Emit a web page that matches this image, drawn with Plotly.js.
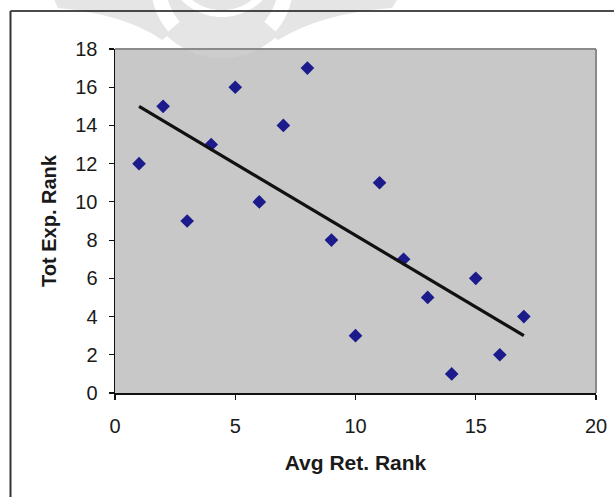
<!DOCTYPE html>
<html>
<head>
<meta charset="utf-8">
<script src="https://cdn.plot.ly/plotly-3.0.1.min.js"></script>
<style>
html,body{margin:0;padding:0;background:#fff;}
#chart{width:614px;height:497px;}
</style>
</head>
<body>
<div id="chart"></div>
<script>
// ---- data ----
const avgRetRank = [1, 2, 3, 4, 5, 6, 7, 8, 9, 10, 11, 12, 13, 14, 15, 16, 17];
const totExpRank = [12, 15, 9, 13, 16, 10, 14, 17, 8, 3, 11, 7, 5, 1, 6, 2, 4];
const xTickVals = [0, 5, 10, 15, 20];
const yTickVals = [0, 2, 4, 6, 8, 10, 12, 14, 16, 18];
const xTitle = 'Avg Ret. Rank';
const yTitle = 'Tot Exp. Rank';

// linear trendline (least squares) from the data
const n = avgRetRank.length;
const mx = avgRetRank.reduce((a, b) => a + b, 0) / n;
const my = totExpRank.reduce((a, b) => a + b, 0) / n;
let sxy = 0, sxx = 0;
for (let i = 0; i < n; i++) {
  sxy += (avgRetRank[i] - mx) * (totExpRank[i] - my);
  sxx += (avgRetRank[i] - mx) ** 2;
}
const slope = sxy / sxx, icpt = my - slope * mx;
const xMin = Math.min(...avgRetRank), xMax = Math.max(...avgRetRank);
const trendX = [xMin, xMax];
const trendY = trendX.map(x => icpt + slope * x);

// ---- geometry helpers (pixel -> paper) ----
const L = 115, R = 596, T = 49, B = 393;
const W = R - L, H = B - T;
const PX = p => (p - L) / W;
const PY = p => (B - p) / H;
function poly(pts) {
  return 'M ' + pts.map(p => PX(p[0]).toFixed(5) + ',' + PY(p[1]).toFixed(5)).join(' L ') + ' Z';
}
function arcPts(cx, cy, r, a0, a1, k) {
  const out = [];
  for (let i = 0; i <= k; i++) {
    const a = (a0 + (a1 - a0) * i / k) * Math.PI / 180;
    out.push([cx + r * Math.cos(a), cy + r * Math.sin(a)]);
  }
  return out;
}
function annulus(cx, cy, r1, r2, a0, a1) {
  return poly(arcPts(cx, cy, r2, a0, a1, 30).concat(arcPts(cx, cy, r1, a1, a0, 30)));
}
function qpath(seq) {
  return seq.map(c => c[0] + ' ' + c.slice(1).map((v, i) => (i % 2 === 0 ? PX(v) : PY(v)).toFixed(5)).join(',')).join(' ') + ' Z';
}

const wm = '#e5e5e5';
const shapes = [
  // watermark wings
  {type: 'path', xref: 'paper', yref: 'paper', layer: 'below', line: {width: 0}, fillcolor: wm,
   path: qpath([['M', 52, -5], ['L', 58, 8], ['Q', 125, 14, 162, 40], ['L', 190, 20], ['L', 190, -5]])},
  {type: 'path', xref: 'paper', yref: 'paper', layer: 'below', line: {width: 0}, fillcolor: wm,
   path: qpath([['M', 400, -5], ['L', 392, 8], ['Q', 322, 13, 278, 40], ['L', 250, 20], ['L', 250, -5]])},
  // watermark disc
  {type: 'path', xref: 'paper', yref: 'paper', layer: 'below', line: {width: 0}, fillcolor: wm,
   path: poly(arcPts(222, -22, 80, 0, 360, 72))},
  // white arcs
  {type: 'path', xref: 'paper', yref: 'paper', layer: 'below', line: {width: 0}, fillcolor: '#ffffff',
   path: annulus(222, -15, 56, 71, 139, 190)},
  {type: 'path', xref: 'paper', yref: 'paper', layer: 'below', line: {width: 0}, fillcolor: '#ffffff',
   path: annulus(222, -15, 56, 71, -10, 41)},
  {type: 'path', xref: 'paper', yref: 'paper', layer: 'below', line: {width: 0}, fillcolor: '#ffffff',
   path: annulus(222, -40, 50, 57, 40, 140)},
  // watermark part over the plot area
  {type: 'path', xref: 'paper', yref: 'paper', layer: 'above', line: {width: 0}, fillcolor: 'rgba(0,0,0,0.1)',
   path: poly(arcPts(222, -22, 80, 63, 117, 30).map(p => [p[0], Math.max(p[1], T + 1)]))},
  // plot border (top / right gray)
  {type: 'line', xref: 'paper', yref: 'paper', x0: 0, x1: 1, y0: 1, y1: 1, line: {color: '#8a8a8a', width: 2}},
  {type: 'line', xref: 'paper', yref: 'paper', x0: 1, x1: 1, y0: 0, y1: 1, line: {color: '#8a8a8a', width: 2}},
  // outer chart frame
  {type: 'line', xref: 'paper', yref: 'paper', x0: PX(10.5), x1: PX(620), y0: PY(11), y1: PY(11), line: {color: '#111', width: 1.5}},
  {type: 'line', xref: 'paper', yref: 'paper', x0: PX(10.5), x1: PX(10.5), y0: PY(11), y1: PY(505), line: {color: '#333', width: 2}}
];

const font = 'Liberation Sans, Arial, Helvetica, sans-serif';
const traces = [
  {x: avgRetRank, y: totExpRank, type: 'scatter', mode: 'markers',
   marker: {symbol: 'diamond', size: 10.5, color: '#1b1b8c', line: {width: 0}}, hoverinfo: 'x+y'},
  {x: trendX, y: trendY, type: 'scatter', mode: 'lines',
   line: {color: '#111111', width: 3.2}, hoverinfo: 'skip'}
];

const layout = {
  width: 614, height: 497,
  margin: {l: L, r: 614 - R, t: T, b: 497 - B, pad: 0},
  paper_bgcolor: '#ffffff', plot_bgcolor: '#c8c8c8',
  showlegend: false,
  font: {family: font, color: '#111'},
  xaxis: {
    range: [0, 20], tickvals: xTickVals, ticktext: xTickVals.map(String),
    ticks: 'outside', ticklen: 5, tickwidth: 1.2, tickcolor: '#111',
    showline: true, linecolor: '#111', linewidth: 1.5,
    showgrid: false, zeroline: false, automargin: false,
    ticklabelstandoff: 9,
    tickfont: {family: font, size: 20, color: '#1a1a1a'},
    title: {text: '<b>' + xTitle + '</b>', font: {family: font, size: 21, color: '#1a1a1a'}, standoff: 20}
  },
  yaxis: {
    range: [0, 18], tickvals: yTickVals, ticktext: yTickVals.map(String),
    ticks: 'outside', ticklen: 5, tickwidth: 1.2, tickcolor: '#111',
    showline: true, linecolor: '#111', linewidth: 1.5,
    showgrid: false, zeroline: false, automargin: false,
    ticklabelstandoff: 7,
    tickfont: {family: font, size: 20, color: '#1a1a1a'},
    title: {text: '<b>' + yTitle + '</b>', font: {family: font, size: 20, color: '#1a1a1a'}, standoff: 13}
  },
  shapes: shapes
};

Plotly.newPlot('chart', traces, layout, {displayModeBar: false, staticPlot: true});
</script>
</body>
</html>
